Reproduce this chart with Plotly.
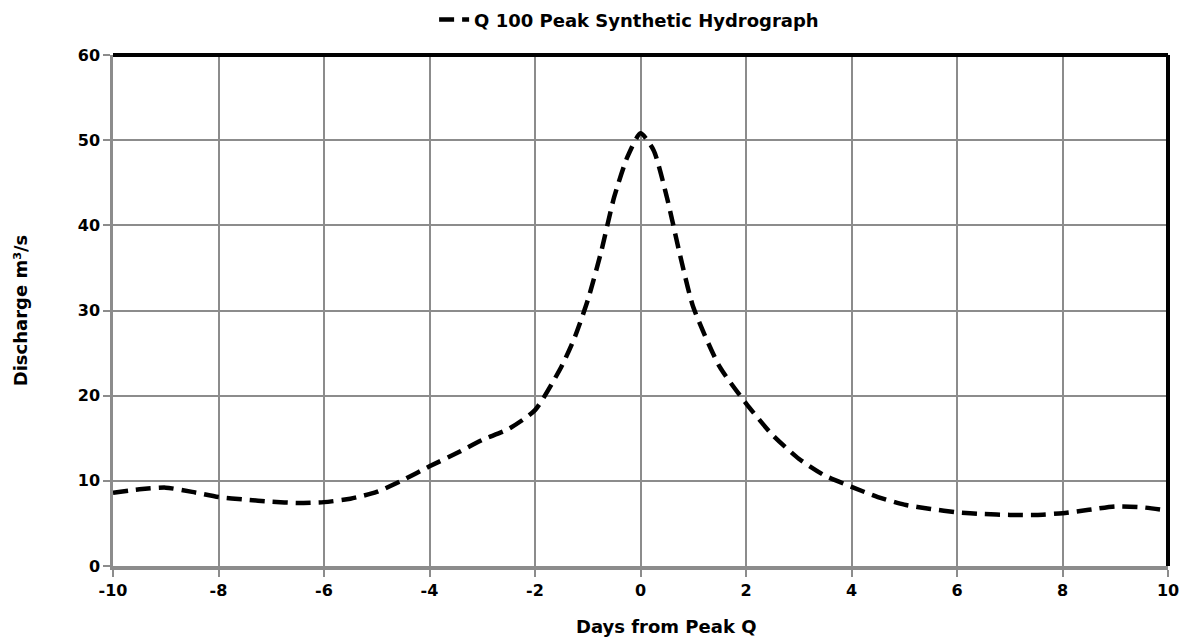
import plotly.graph_objects as go

days = [-10, -9.5, -9, -8.5, -8, -7.5, -7, -6.5, -6, -5.5, -5, -4.5, -4, -3.5, -3, -2.5, -2,
        -1.5, -1.25, -1, -0.75, -0.5, -0.25, 0, 0.25, 0.5, 0.75, 1, 1.5, 2, 2.5, 3, 3.5, 4,
        4.5, 5, 5.5, 6, 6.5, 7, 7.5, 8, 8.5, 9, 9.5, 10]
discharge = [8.6, 9.0, 9.2, 8.7, 8.1, 7.8, 7.55, 7.4, 7.5, 7.9, 8.7, 10.1, 11.7, 13.2, 14.8, 16.1, 18.3,
             23.4, 26.8, 31.2, 36.8, 43.3, 48.0, 50.8, 48.8, 43.3, 36.5, 30.4, 23.4, 19.1, 15.4, 12.6, 10.6, 9.3,
             8.1, 7.2, 6.7, 6.3, 6.1, 6.0, 6.0, 6.2, 6.6, 7.0, 6.9, 6.5]
series_name = "Q 100 Peak Synthetic Hydrograph"
x_title = "Days from Peak Q"
y_title = "Discharge m³/s"
x_ticks = list(range(-10, 11, 2))
y_ticks = list(range(0, 61, 10))

FONT = "DejaVu Sans"

fig = go.Figure()
fig.add_trace(go.Scatter(
    x=days, y=discharge, mode="lines", name=series_name,
    line=dict(color="black", width=4.5, dash="15px,8px", shape="spline", smoothing=0.6),
    showlegend=True,
))

axis_common = dict(
    showgrid=True, gridcolor="#8c8c8c", gridwidth=1.5,
    ticks="outside", ticklen=7, tickcolor="#8c8c8c", tickwidth=1.5,
    tickfont=dict(family=FONT, size=16, color="black", weight="bold"),
    zeroline=False,
)

fig.update_xaxes(
    range=[-10, 10], tickvals=x_ticks, ticktext=[str(v) for v in x_ticks],
    showline=True, linecolor="#8c8c8c", linewidth=4,
    **axis_common,
)
fig.update_yaxes(
    range=[0, 60], tickvals=y_ticks, ticktext=[str(v) for v in y_ticks],
    showline=True, linecolor="#8c8c8c", linewidth=2.5,
    title=dict(text=y_title, font=dict(family=FONT, size=18, color="black", weight="bold"),
               standoff=46),
    **axis_common,
)

# x-axis title (placed slightly right of centre as in the reference)
fig.add_annotation(
    text=x_title, xref="paper", yref="paper", x=0.524, y=0, yshift=-60,
    xanchor="center", yanchor="middle", showarrow=False,
    font=dict(family=FONT, size=18, color="black", weight="bold"),
)

# top and right black borders
fig.add_shape(type="line", xref="paper", yref="paper", x0=0, x1=1, y0=1, y1=1,
              line=dict(color="black", width=4))
fig.add_shape(type="line", xref="paper", yref="paper", x0=1, x1=1, y0=0, y1=1,
              line=dict(color="black", width=4))

fig.update_layout(
    width=1187, height=638,
    margin=dict(l=113, r=19, t=55, b=72, autoexpand=False),
    paper_bgcolor="white", plot_bgcolor="white",
    legend=dict(
        orientation="h", xref="container", yref="container",
        x=0.53, xanchor="center", y=0.998, yanchor="top",
        font=dict(family=FONT, size=18, color="black", weight="bold"),
        bgcolor="rgba(0,0,0,0)",
    ),
)

fig.write_html("out.html")
